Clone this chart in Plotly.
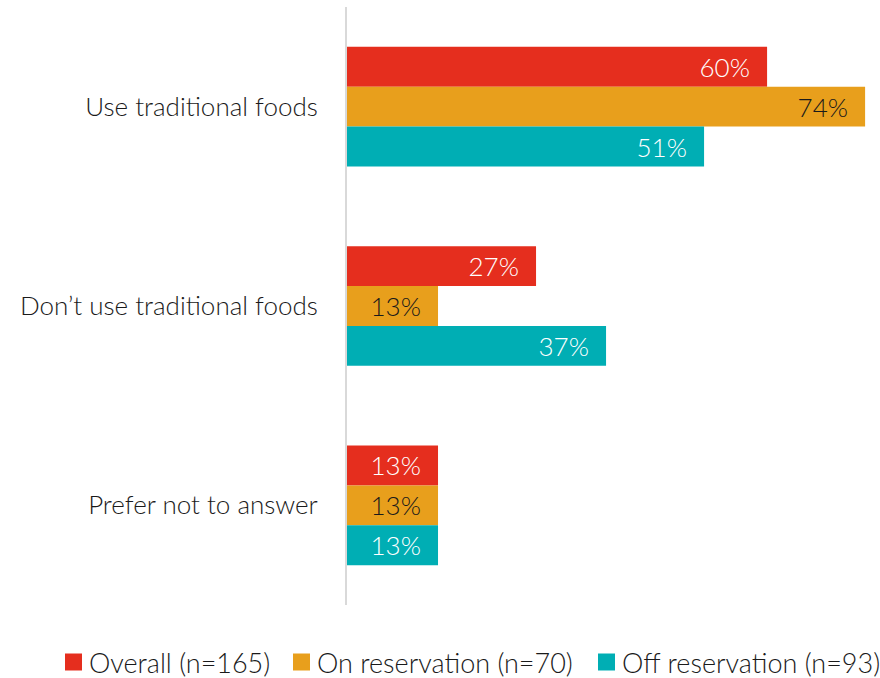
import plotly.graph_objects as go

categories = ["Use traditional foods", "Don\u2019t use traditional foods", "Prefer not to answer"]
series_names = ["Overall (n=165)", "On reservation (n=70)", "Off reservation (n=93)"]
overall = [60, 27, 13]
on_reservation = [74, 13, 13]
off_reservation = [51, 37, 13]

colors = ["#E52E1E", "#E89F1C", "#00AEB4"]
label_colors = ["#FFFFFF", "#1a1a1a", "#FFFFFF"]
FONT = "Lato"
WEIGHT = 300

# plot area in pixels, used to place the hand-built legend below it
W, H = 880, 678
ML, MR, MT, MB = 347, 10, 7, 73
PW, PH = W - ML - MR, H - MT - MB


def px_x(px):
    return (px - ML) / PW


def px_y(py):
    return (H - MB - py) / PH


fig = go.Figure()
for name, vals, col, tcol in zip(series_names, [overall, on_reservation, off_reservation], colors, label_colors):
    fig.add_trace(go.Bar(
        y=categories, x=vals, name=name, orientation="h",
        marker=dict(color=col, line=dict(width=0)),
        text=[f"{v}%\u00a0\u00a0" for v in vals],
        textposition="inside", insidetextanchor="end",
        textfont=dict(family=FONT, size=26, color=tcol, weight=WEIGHT),
        hoverinfo="skip", showlegend=False,
    ))

# legend: coloured square + series name, laid out in one row
legend_x = [65, 293, 598]
sq = 17
cy = 662
for name, col, x0 in zip(series_names, colors, legend_x):
    fig.add_shape(type="rect", xref="paper", yref="paper",
                  x0=px_x(x0), x1=px_x(x0 + sq), y0=px_y(cy + sq / 2), y1=px_y(cy - sq / 2),
                  fillcolor=col, line=dict(width=0))
    fig.add_annotation(xref="paper", yref="paper", x=px_x(x0 + sq + 5), y=px_y(cy),
                       xanchor="left", yanchor="middle", text=name, showarrow=False,
                       font=dict(family=FONT, size=27, color="#1a1a1a", weight=WEIGHT))

fig.update_layout(
    barmode="group", bargap=0.4, bargroupgap=0,
    width=W, height=H,
    margin=dict(l=ML, r=MR, t=MT, b=MB, autoexpand=False),
    paper_bgcolor="white", plot_bgcolor="white",
    font=dict(family=FONT, color="#1a1a1a", weight=WEIGHT),
    xaxis=dict(range=[0, 74.7], visible=False, fixedrange=True),
    yaxis=dict(autorange="reversed", showline=True, linecolor="#d9d9d9", linewidth=2,
               ticks="", ticklabelstandoff=22,
               tickfont=dict(family=FONT, size=26, color="#1a1a1a", weight=WEIGHT),
               showgrid=False, fixedrange=True),
    showlegend=False,
)

fig.write_html("out.html")
